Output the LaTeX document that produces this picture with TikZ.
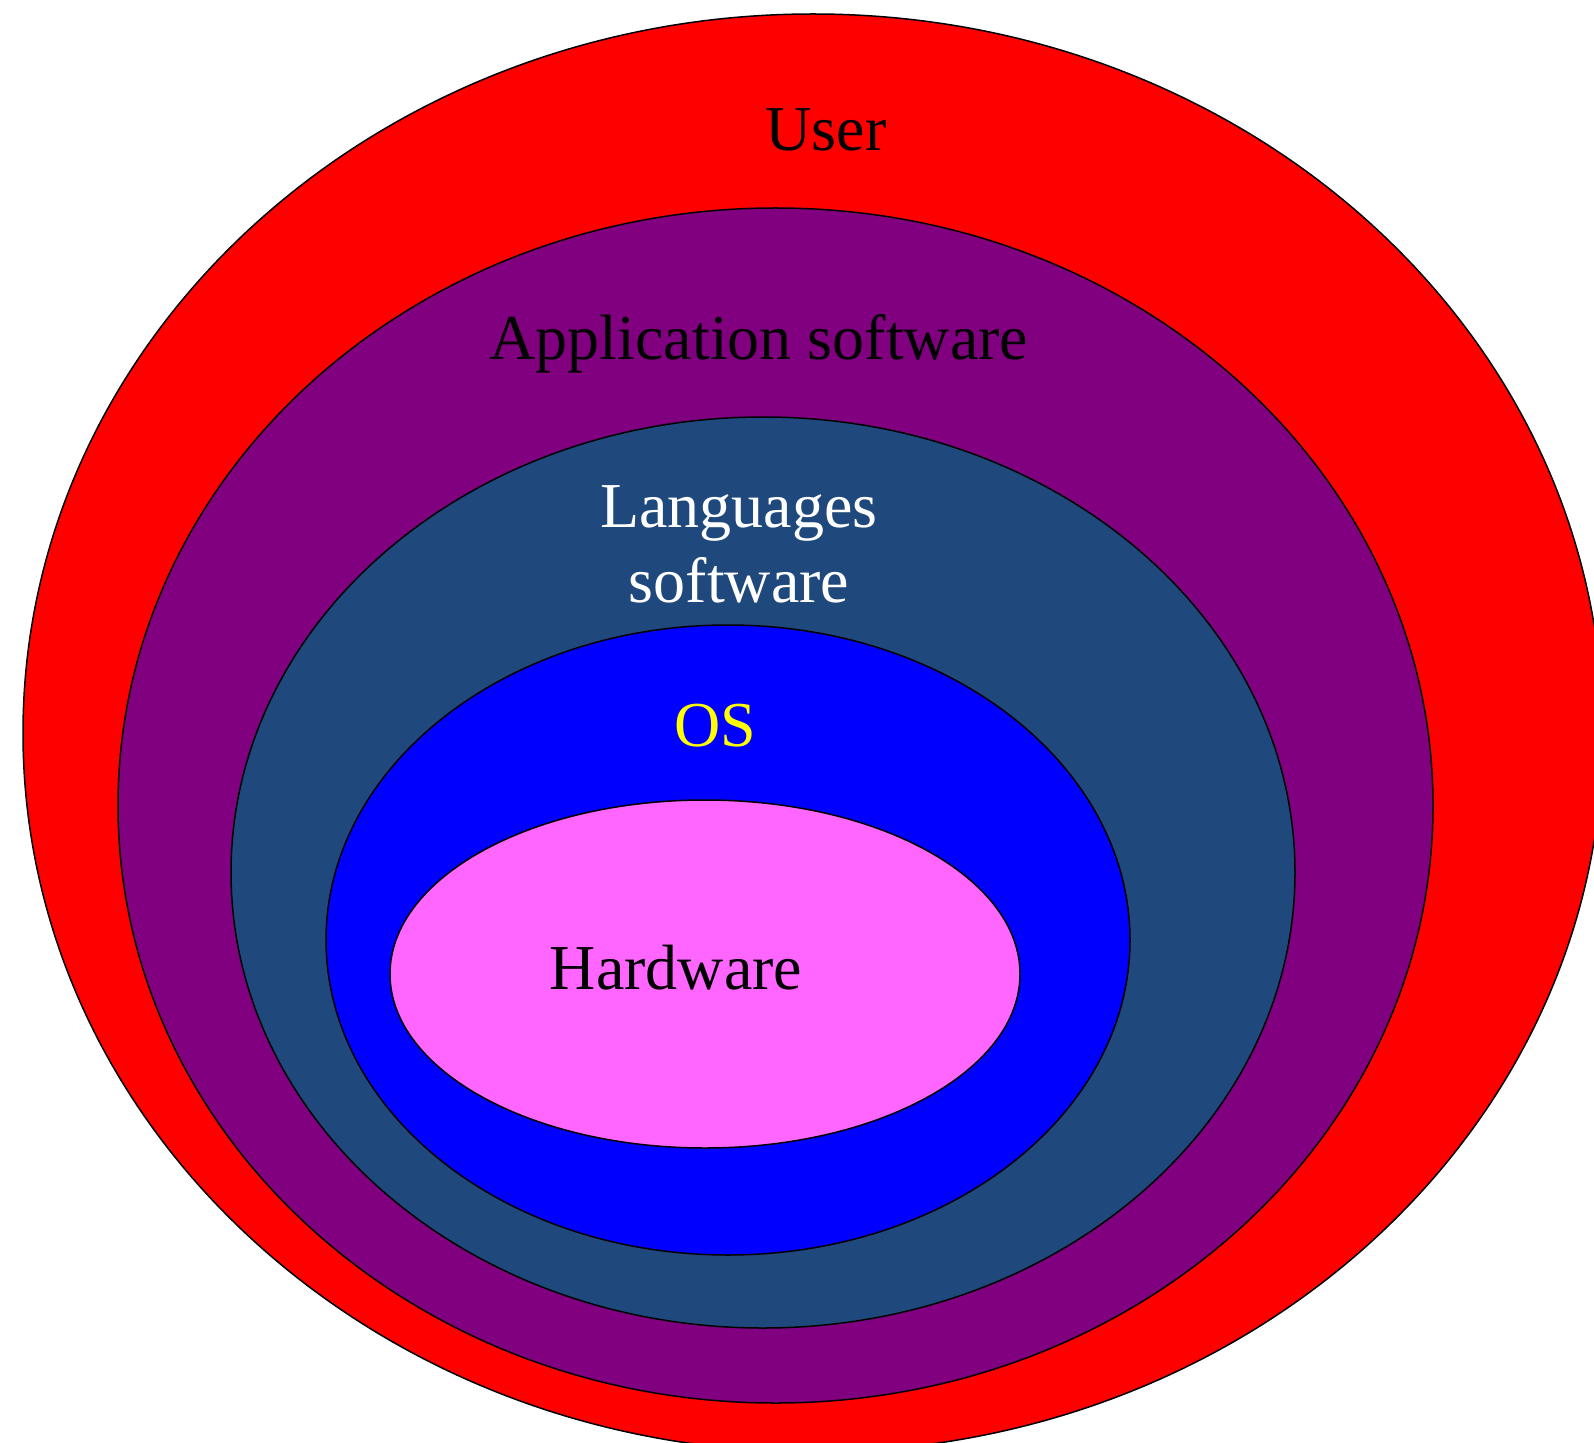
\documentclass[tikz,border=0pt]{standalone}
\usepackage{fontspec}
\setmainfont{Liberation Serif}
\definecolor{userred}{HTML}{FF0000}
\definecolor{apppurple}{HTML}{800080}
\definecolor{langblue}{HTML}{1F497D}
\definecolor{osblue}{HTML}{0000FF}
\definecolor{hwpink}{HTML}{FF66FF}
\definecolor{osyellow}{HTML}{FFFF00}
\begin{document}
\begin{tikzpicture}[x=0.5pt,y=-0.5pt,
  layer/.style={draw=black,line width=0.75pt},
  lbl/.style={anchor=base,inner sep=0pt,align=center,
    font=\fontsize{32}{37.5}\selectfont}]
  \useasboundingbox (0,0) rectangle (1594,1443);
  \clip (0,0) rectangle (1594,1443);
  % nested layers, outermost first
  \path[layer,fill=userred]    (813,733)   ellipse [x radius=790,   y radius=719];
  \path[layer,fill=apppurple]  (775.5,805.5) ellipse [x radius=657.5, y radius=597.5];
  \path[layer,fill=langblue]   (763,872.5) ellipse [x radius=532,   y radius=455.5];
  \path[layer,fill=osblue]     (728,940)   ellipse [x radius=402,   y radius=315];
  \path[layer,fill=hwpink]     (705,974)   ellipse [x radius=315,   y radius=174];
  % layer labels (base anchor sits on the last line's baseline)
  \node[lbl,text=black]    (user) at (826,151) {User};
  \node[lbl,text=black]    (app)  at (759,360) {Application software};
  \node[lbl,text=white]    (lang) at (739,602) {Languages\\software};
  \node[lbl,text=osyellow] (os)   at (715,746) {OS};
  \node[lbl,text=black]    (hw)   at (676,989) {Hardware};
\end{tikzpicture}
\end{document}
